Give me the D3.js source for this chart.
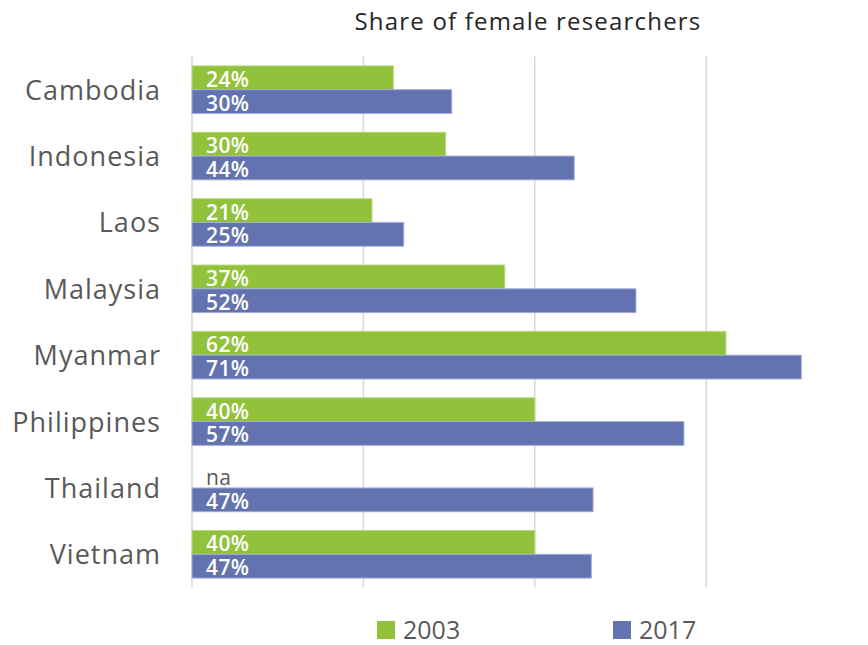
<!DOCTYPE html>
<html>
<head>
<meta charset="utf-8">
<script src="https://cdn.jsdelivr.net/npm/d3@7"></script>
<style>
  body { margin: 0; background: #fff; }
  svg { font-family: "Open Sans", sans-serif; }
</style>
</head>
<body>
<div id="chart"></div>
<script>
const countries = ["Cambodia", "Indonesia", "Laos", "Malaysia", "Myanmar", "Philippines", "Thailand", "Vietnam"];
const years = ["2003", "2017"];
// bar lengths (labels shown as printed in the original)
const values2003 = [23.5, 29.6, 21.0, 36.5, 62.3, 40.0, null, 40.0];
const values2017 = [30.3, 44.6, 24.7, 51.8, 71.1, 57.4, 46.8, 46.6];
const labels2003 = ["24%", "30%", "21%", "37%", "62%", "40%", "na", "40%"];
const labels2017 = ["30%", "44%", "25%", "52%", "71%", "57%", "47%", "47%"];
const gridTicks = [0, 20, 40, 60];

const colors = { "2003": "#92c13c", "2017": "#6373b0" };
const edges = { "2003": "#b9da80", "2017": "#a3addb" };

const width = 868, height = 645;
const svg = d3.select("#chart").append("svg")
    .attr("width", width)
    .attr("height", height);

const x = d3.scaleLinear().domain([0, 60]).range([192, 706.2]);

const y = d3.scaleBand()
    .domain(countries)
    .range([56.5, 587.5])
    .paddingInner(0.283)
    .paddingOuter(0.1415);

const ySub = d3.scaleBand()
    .domain(years)
    .range([0, y.bandwidth()]);

// gridlines
svg.append("g")
    .selectAll("line")
    .data(gridTicks)
    .enter()
    .append("line")
    .attr("x1", d => x(d))
    .attr("x2", d => x(d))
    .attr("y1", y.range()[0])
    .attr("y2", y.range()[1])
    .attr("stroke", "#d9d9d9")
    .attr("stroke-width", 1.5);

// title
svg.append("text")
    .attr("x", 528)
    .attr("y", 30)
    .attr("text-anchor", "middle")
    .attr("font-size", 24)
    .attr("letter-spacing", 1.2)
    .attr("fill", "#262626")
    .text("Share of female researchers");

const series = [
    { year: "2003", values: values2003, labels: labels2003 },
    { year: "2017", values: values2017, labels: labels2017 }
];

series.forEach(s => {
    const g = svg.append("g");
    const rows = countries.map((c, i) => ({ country: c, value: s.values[i], label: s.labels[i] }));

    g.selectAll("rect")
        .data(rows.filter(d => d.value !== null))
        .enter()
        .append("rect")
        .attr("x", x(0))
        .attr("y", d => y(d.country) + ySub(s.year))
        .attr("width", d => x(d.value) - x(0))
        .attr("height", ySub.bandwidth())
        .attr("fill", colors[s.year])
        .attr("stroke", edges[s.year])
        .attr("stroke-width", 1);

    g.selectAll("text")
        .data(rows)
        .enter()
        .append("text")
        .attr("x", x(0) + 14)
        .attr("y", d => y(d.country) + ySub(s.year) + ySub.bandwidth() / 2 + 9)
        .attr("font-size", 21)
        .attr("letter-spacing", 0.4)
        .attr("font-weight", d => d.value === null ? 400 : 600)
        .attr("fill", d => d.value === null ? "#595959" : "#fff")
        .text(d => d.label);
});

// category labels
svg.append("g")
    .selectAll("text")
    .data(countries)
    .enter()
    .append("text")
    .attr("x", 161)
    .attr("y", d => y(d) + y.bandwidth() / 2 + 10)
    .attr("text-anchor", "end")
    .attr("font-size", 27)
    .attr("letter-spacing", 1)
    .attr("fill", "#595959")
    .text(d => d);

// legend
const legendX = [377, 613];
const legend = svg.append("g")
    .selectAll("g")
    .data(years)
    .enter()
    .append("g")
    .attr("transform", (d, i) => `translate(${legendX[i]},621)`);

legend.append("rect")
    .attr("width", 18)
    .attr("height", 18)
    .attr("fill", d => colors[d]);

legend.append("text")
    .attr("x", 26)
    .attr("y", 18)
    .attr("font-size", 25)
    .attr("fill", "#595959")
    .text(d => d);
</script>
</body>
</html>
